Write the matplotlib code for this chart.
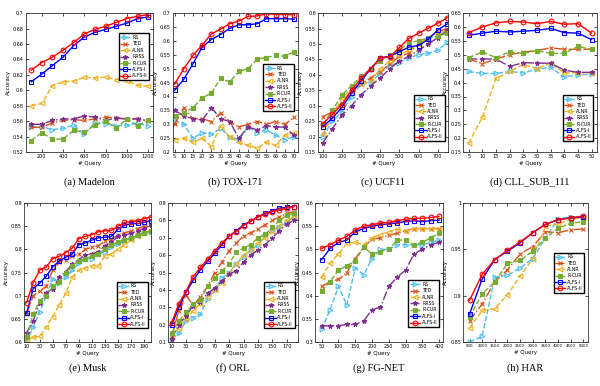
import matplotlib.pyplot as plt

# (a) Madelon
mad_x = [100, 200, 300, 400, 500, 600, 700, 800, 900, 1000, 1100, 1200]
mad_rs = [0.553, 0.553, 0.549, 0.551, 0.555, 0.543, 0.558, 0.557, 0.554, 0.555, 0.557, 0.554]
mad_ted = [0.552, 0.552, 0.558, 0.561, 0.562, 0.561, 0.563, 0.565, 0.564, 0.563, 0.563, 0.560]
mad_alnr = [0.580, 0.583, 0.606, 0.611, 0.612, 0.617, 0.616, 0.617, 0.614, 0.612, 0.607, 0.605]
mad_rrss = [0.556, 0.556, 0.561, 0.563, 0.563, 0.567, 0.565, 0.561, 0.564, 0.563, 0.563, 0.561]
mad_rcur = [0.535, 0.545, 0.537, 0.537, 0.548, 0.546, 0.555, 0.560, 0.551, 0.563, 0.554, 0.561]
mad_alfs1 = [0.611, 0.621, 0.632, 0.643, 0.658, 0.669, 0.675, 0.679, 0.683, 0.687, 0.693, 0.695]
mad_alfs2 = [0.626, 0.636, 0.643, 0.652, 0.662, 0.673, 0.679, 0.683, 0.688, 0.693, 0.696, 0.698]

# (b) TOX-171
tox_x = [5, 10, 15, 20, 25, 30, 35, 40, 45, 50, 55, 60, 65, 70]
tox_rs = [0.315, 0.30, 0.25, 0.27, 0.265, 0.285, 0.255, 0.245, 0.29, 0.27, 0.28, 0.26, 0.245, 0.255]
tox_ted = [0.30, 0.36, 0.32, 0.32, 0.31, 0.34, 0.31, 0.29, 0.30, 0.31, 0.30, 0.31, 0.30, 0.325]
tox_alnr = [0.245, 0.25, 0.235, 0.25, 0.22, 0.295, 0.255, 0.235, 0.225, 0.215, 0.235, 0.225, 0.26, 0.27]
tox_rrss = [0.35, 0.33, 0.32, 0.315, 0.36, 0.32, 0.31, 0.25, 0.29, 0.28, 0.295, 0.29, 0.29, 0.26]
tox_rcur = [0.33, 0.34, 0.36, 0.395, 0.412, 0.465, 0.452, 0.49, 0.50, 0.535, 0.54, 0.548, 0.545, 0.56]
tox_alfs1 = [0.422, 0.462, 0.518, 0.578, 0.605, 0.623, 0.645, 0.658, 0.658, 0.662, 0.68, 0.68, 0.68, 0.678]
tox_alfs2 = [0.445, 0.50, 0.548, 0.585, 0.625, 0.642, 0.662, 0.672, 0.688, 0.69, 0.698, 0.695, 0.695, 0.695]

# (c) UCF11
ucf_x = [100, 150, 200, 250, 300, 350, 400, 450, 500, 550, 600, 650, 700, 750]
ucf_rs = [0.20, 0.25, 0.28, 0.33, 0.37, 0.375, 0.405, 0.43, 0.44, 0.455, 0.465, 0.47, 0.48, 0.505]
ucf_ted = [0.265, 0.28, 0.31, 0.35, 0.37, 0.39, 0.41, 0.435, 0.46, 0.47, 0.50, 0.52, 0.54, 0.55]
ucf_alnr = [0.21, 0.265, 0.325, 0.355, 0.37, 0.38, 0.42, 0.445, 0.465, 0.48, 0.50, 0.52, 0.535, 0.545]
ucf_rrss = [0.18, 0.225, 0.27, 0.30, 0.335, 0.365, 0.39, 0.42, 0.445, 0.46, 0.48, 0.50, 0.52, 0.545]
ucf_rcur = [0.24, 0.285, 0.335, 0.365, 0.395, 0.42, 0.445, 0.465, 0.48, 0.505, 0.51, 0.52, 0.525, 0.535]
ucf_alfs1 = [0.232, 0.26, 0.295, 0.34, 0.38, 0.42, 0.455, 0.46, 0.475, 0.49, 0.495, 0.515, 0.545, 0.565]
ucf_alfs2 = [0.241, 0.272, 0.304, 0.35, 0.389, 0.418, 0.456, 0.458, 0.489, 0.518, 0.535, 0.551, 0.567, 0.585]

# (d) CLL_SUB_111
cll_x = [5, 10, 15, 20, 25, 30, 35, 40, 45, 50]
cll_rs = [0.44, 0.433, 0.433, 0.44, 0.435, 0.448, 0.455, 0.42, 0.428, 0.43]
cll_ted = [0.485, 0.468, 0.485, 0.50, 0.51, 0.515, 0.525, 0.52, 0.52, 0.52]
cll_alnr = [0.182, 0.275, 0.415, 0.44, 0.465, 0.45, 0.47, 0.435, 0.435, 0.435]
cll_rrss = [0.485, 0.485, 0.485, 0.458, 0.472, 0.47, 0.47, 0.445, 0.437, 0.437]
cll_rcur = [0.49, 0.51, 0.49, 0.51, 0.505, 0.515, 0.505, 0.505, 0.53, 0.52]
cll_alfs1 = [0.57, 0.578, 0.585, 0.582, 0.585, 0.588, 0.595, 0.58, 0.578, 0.555]
cll_alfs2 = [0.58, 0.60, 0.615, 0.62, 0.618, 0.612, 0.62, 0.61, 0.612, 0.578]

# (e) Musk
musk_x = [10, 20, 30, 40, 50, 60, 70, 80, 90, 100, 110, 120, 130, 140, 150, 160, 170, 180, 190, 200]
musk_rs = [0.60, 0.632, 0.665, 0.70, 0.735, 0.728, 0.74, 0.755, 0.77, 0.78, 0.78, 0.79, 0.795, 0.805, 0.812, 0.818, 0.825, 0.83, 0.835, 0.838]
musk_ted = [0.66, 0.70, 0.71, 0.72, 0.755, 0.772, 0.778, 0.785, 0.79, 0.80, 0.805, 0.808, 0.818, 0.822, 0.83, 0.835, 0.84, 0.845, 0.85, 0.855]
musk_alnr = [0.605, 0.61, 0.612, 0.632, 0.655, 0.68, 0.705, 0.74, 0.755, 0.76, 0.765, 0.765, 0.785, 0.79, 0.80, 0.81, 0.82, 0.828, 0.835, 0.842]
musk_rrss = [0.62, 0.645, 0.685, 0.705, 0.715, 0.74, 0.752, 0.768, 0.778, 0.788, 0.79, 0.795, 0.808, 0.815, 0.828, 0.83, 0.835, 0.84, 0.845, 0.852]
musk_rcur = [0.61, 0.66, 0.688, 0.70, 0.72, 0.73, 0.748, 0.765, 0.775, 0.78, 0.785, 0.79, 0.80, 0.81, 0.815, 0.82, 0.825, 0.83, 0.835, 0.84]
musk_alfs1 = [0.662, 0.715, 0.727, 0.742, 0.762, 0.775, 0.783, 0.79, 0.81, 0.814, 0.82, 0.825, 0.826, 0.828, 0.843, 0.852, 0.855, 0.856, 0.858, 0.862]
musk_alfs2 = [0.685, 0.728, 0.755, 0.762, 0.78, 0.785, 0.793, 0.803, 0.823, 0.828, 0.832, 0.838, 0.84, 0.841, 0.85, 0.858, 0.86, 0.862, 0.866, 0.87]

# (f) ORL
orl_x = [10, 20, 30, 40, 50, 60, 70, 80, 90, 100, 110, 120, 130, 140, 150, 160, 170, 180]
orl_rs = [0.12, 0.15, 0.22, 0.24, 0.26, 0.35, 0.40, 0.47, 0.50, 0.55, 0.59, 0.63, 0.66, 0.71, 0.74, 0.76, 0.79, 0.82]
orl_ted = [0.13, 0.28, 0.37, 0.31, 0.36, 0.42, 0.50, 0.56, 0.625, 0.67, 0.71, 0.73, 0.75, 0.775, 0.80, 0.82, 0.84, 0.85]
orl_alnr = [0.13, 0.18, 0.23, 0.28, 0.32, 0.36, 0.40, 0.44, 0.50, 0.55, 0.60, 0.63, 0.67, 0.70, 0.74, 0.77, 0.80, 0.82]
orl_rrss = [0.12, 0.20, 0.25, 0.31, 0.33, 0.38, 0.41, 0.45, 0.49, 0.51, 0.56, 0.60, 0.63, 0.66, 0.70, 0.74, 0.78, 0.80]
orl_rcur = [0.15, 0.22, 0.27, 0.32, 0.34, 0.42, 0.47, 0.51, 0.55, 0.62, 0.64, 0.66, 0.70, 0.72, 0.76, 0.80, 0.83, 0.84]
orl_alfs1 = [0.195, 0.30, 0.385, 0.455, 0.515, 0.565, 0.61, 0.66, 0.71, 0.74, 0.775, 0.795, 0.82, 0.84, 0.855, 0.87, 0.875, 0.88]
orl_alfs2 = [0.21, 0.32, 0.39, 0.475, 0.53, 0.575, 0.625, 0.67, 0.71, 0.735, 0.77, 0.795, 0.82, 0.835, 0.85, 0.86, 0.87, 0.88]

# (g) FG-NET
fg_x = [50, 75, 100, 125, 150, 175, 200, 225, 250, 275, 300, 325, 350, 375, 400]
fg_rs = [0.327, 0.37, 0.42, 0.38, 0.46, 0.445, 0.48, 0.50, 0.50, 0.51, 0.51, 0.51, 0.51, 0.515, 0.52]
fg_ted = [0.42, 0.43, 0.435, 0.45, 0.48, 0.505, 0.522, 0.525, 0.53, 0.535, 0.54, 0.545, 0.545, 0.545, 0.545]
fg_alnr = [0.44, 0.47, 0.49, 0.513, 0.515, 0.51, 0.525, 0.532, 0.538, 0.543, 0.54, 0.545, 0.545, 0.545, 0.545]
fg_rrss = [0.335, 0.335, 0.335, 0.338, 0.338, 0.345, 0.37, 0.375, 0.42, 0.44, 0.455, 0.49, 0.50, 0.51, 0.515]
fg_rcur = [0.41, 0.43, 0.455, 0.465, 0.475, 0.505, 0.49, 0.495, 0.50, 0.52, 0.52, 0.51, 0.515, 0.525, 0.535]
fg_alfs1 = [0.478, 0.502, 0.515, 0.52, 0.538, 0.545, 0.55, 0.553, 0.555, 0.557, 0.56, 0.562, 0.56, 0.562, 0.563]
fg_alfs2 = [0.502, 0.51, 0.52, 0.528, 0.542, 0.55, 0.553, 0.557, 0.558, 0.562, 0.565, 0.567, 0.567, 0.569, 0.571]

# (h) HAR (sem RRSS)
har_x = [500, 1000, 1500, 2000, 2500, 3000, 3500, 4000, 4500, 5000]
har_rs = [0.85, 0.856, 0.92, 0.922, 0.93, 0.94, 0.962, 0.983, 0.985, 0.985]
har_ted = [0.873, 0.891, 0.915, 0.928, 0.945, 0.953, 0.969, 0.968, 0.971, 0.972]
har_alnr = [0.865, 0.884, 0.886, 0.901, 0.921, 0.94, 0.975, 0.977, 0.983, 0.984]
har_rcur = [0.877, 0.902, 0.915, 0.935, 0.938, 0.948, 0.962, 0.973, 0.978, 0.98]
har_alfs1 = [0.88, 0.918, 0.939, 0.948, 0.957, 0.968, 0.977, 0.982, 0.984, 0.985]
har_alfs2 = [0.895, 0.923, 0.939, 0.949, 0.958, 0.968, 0.977, 0.982, 0.984, 0.986]

# estilo de cada método: cor, linha, marcador, preenchido?
estilos = {
    'RS': ('#4DBEEE', '--', '>', False),
    'TED': ('#D95319', '-.', 'x', False),
    'ALNR': ('#EDB120', '--', '<', False),
    'RRSS': ('#7E2F8E', '-.', '*', True),
    'R-CUR': ('#77AC30', '--', 's', True),
    'ALFS-I': ('#0000FF', '-', 's', False),
    'ALFS-II': ('#FF0000', '-', 'o', False),
}

paineis = [
    ('(a) Madelon', mad_x, [('RS', mad_rs), ('TED', mad_ted), ('ALNR', mad_alnr), ('RRSS', mad_rrss),
                            ('R-CUR', mad_rcur), ('ALFS-I', mad_alfs1), ('ALFS-II', mad_alfs2)],
     (50, 1245), (0.52, 0.70), list(range(200, 1201, 200)), [0.52 + 0.02 * i for i in range(10)], 0.87),
    ('(b) TOX-171', tox_x, [('RS', tox_rs), ('TED', tox_ted), ('ALNR', tox_alnr), ('RRSS', tox_rrss),
                            ('R-CUR', tox_rcur), ('ALFS-I', tox_alfs1), ('ALFS-II', tox_alfs2)],
     (4, 72), (0.2, 0.7), list(range(5, 71, 5)), [0.2 + 0.05 * i for i in range(11)], 0.65),
    ('(c) UCF11', ucf_x, [('RS', ucf_rs), ('TED', ucf_ted), ('ALNR', ucf_alnr), ('RRSS', ucf_rrss),
                          ('R-CUR', ucf_rcur), ('ALFS-I', ucf_alfs1), ('ALFS-II', ucf_alfs2)],
     (75, 755), (0.15, 0.6), list(range(100, 701, 100)), [0.15 + 0.05 * i for i in range(10)], 0.43),
    ('(d) CLL_SUB_111', cll_x, [('RS', cll_rs), ('TED', cll_ted), ('ALNR', cll_alnr), ('RRSS', cll_rrss),
                                ('R-CUR', cll_rcur), ('ALFS-I', cll_alfs1), ('ALFS-II', cll_alfs2)],
     (3, 52), (0.15, 0.65), list(range(5, 51, 5)), [0.15 + 0.05 * i for i in range(11)], 0.43),
    ('(e) Musk', musk_x, [('RS', musk_rs), ('TED', musk_ted), ('ALNR', musk_alnr), ('RRSS', musk_rrss),
                          ('R-CUR', musk_rcur), ('ALFS-I', musk_alfs1), ('ALFS-II', musk_alfs2)],
     (6, 201), (0.6, 0.9), list(range(10, 191, 20)), [0.6 + 0.05 * i for i in range(7)], 0.45),
    ('(f) ORL', orl_x, [('RS', orl_rs), ('TED', orl_ted), ('ALNR', orl_alnr), ('RRSS', orl_rrss),
                        ('R-CUR', orl_rcur), ('ALFS-I', orl_alfs1), ('ALFS-II', orl_alfs2)],
     (5, 186), (0.1, 0.9), list(range(10, 171, 20)), [0.1 * i for i in range(1, 10)], 0.45),
    ('(g) FG-NET', fg_x, [('RS', fg_rs), ('TED', fg_ted), ('ALNR', fg_alnr), ('RRSS', fg_rrss),
                          ('R-CUR', fg_rcur), ('ALFS-I', fg_alfs1), ('ALFS-II', fg_alfs2)],
     (30, 411), (0.3, 0.6), list(range(50, 401, 50)), [0.3 + 0.05 * i for i in range(7)], 0.46),
    ('(h) HAR', har_x, [('RS', har_rs), ('TED', har_ted), ('ALNR', har_alnr), ('R-CUR', har_rcur),
                        ('ALFS-I', har_alfs1), ('ALFS-II', har_alfs2)],
     (250, 5185), (0.85, 1.0), list(range(500, 5001, 500)), [0.85, 0.9, 0.95, 1.0], 0.66),
]

# posições dos eixos em fração da figura [esq, baixo, larg, alt]
posicoes = [
    [0.043, 0.606, 0.212, 0.360], [0.288, 0.606, 0.208, 0.360],
    [0.530, 0.606, 0.217, 0.360], [0.772, 0.606, 0.223, 0.360],
    [0.040, 0.114, 0.212, 0.360], [0.280, 0.114, 0.217, 0.360],
    [0.525, 0.114, 0.213, 0.360], [0.772, 0.114, 0.208, 0.360],
]

def fmt(v):
    return ('%.2f' % v).rstrip('0').rstrip('.')

fig = plt.figure(figsize=(6, 3.86), dpi=100)
for (titulo, x, series, xl, yl, xt, yt, topo_leg), pos in zip(paineis, posicoes):
    ax = fig.add_axes(pos)
    for nome, y in series:
        cor, ls, mk, cheio = estilos[nome]
        ax.plot(x, y, color=cor, linestyle=ls, marker=mk, markersize=3.4, linewidth=1.0,
                markerfacecolor=cor if cheio else 'none', markeredgewidth=0.8, label=nome)
    ax.set_xlim(xl)
    ax.set_ylim(yl)
    ax.set_xticks(xt)
    ax.set_xticklabels([str(v) for v in xt])
    ax.set_yticks(yt)
    ax.set_yticklabels([fmt(v) for v in yt])
    ax.tick_params(direction='in', top=True, right=True, labelsize=3.5, length=2, width=0.5, pad=1.5)
    if xt[-1] >= 5000:
        ax.tick_params(axis='x', labelsize=2.9)
    for s in ax.spines.values():
        s.set_linewidth(0.6)
        s.set_color('#333333')
    ax.set_xlabel('# Query', fontsize=4, labelpad=1.5)
    ax.set_ylabel('Accuracy', fontsize=4, labelpad=1.5)
    ax.legend(loc='upper right', bbox_to_anchor=(0.99, topo_leg), fontsize=3.3, handlelength=2.2,
              labelspacing=0.3, borderpad=0.35, handletextpad=0.4, fancybox=False, framealpha=1,
              edgecolor='black')
    cx = pos[0] + pos[2] / 2
    cy = 0.528 if pos[1] > 0.5 else 0.047
    fig.text(cx, cy, titulo, ha='center', va='center', fontsize=7.5, family='Liberation Serif')

fig.savefig('out.png', dpi=100)
